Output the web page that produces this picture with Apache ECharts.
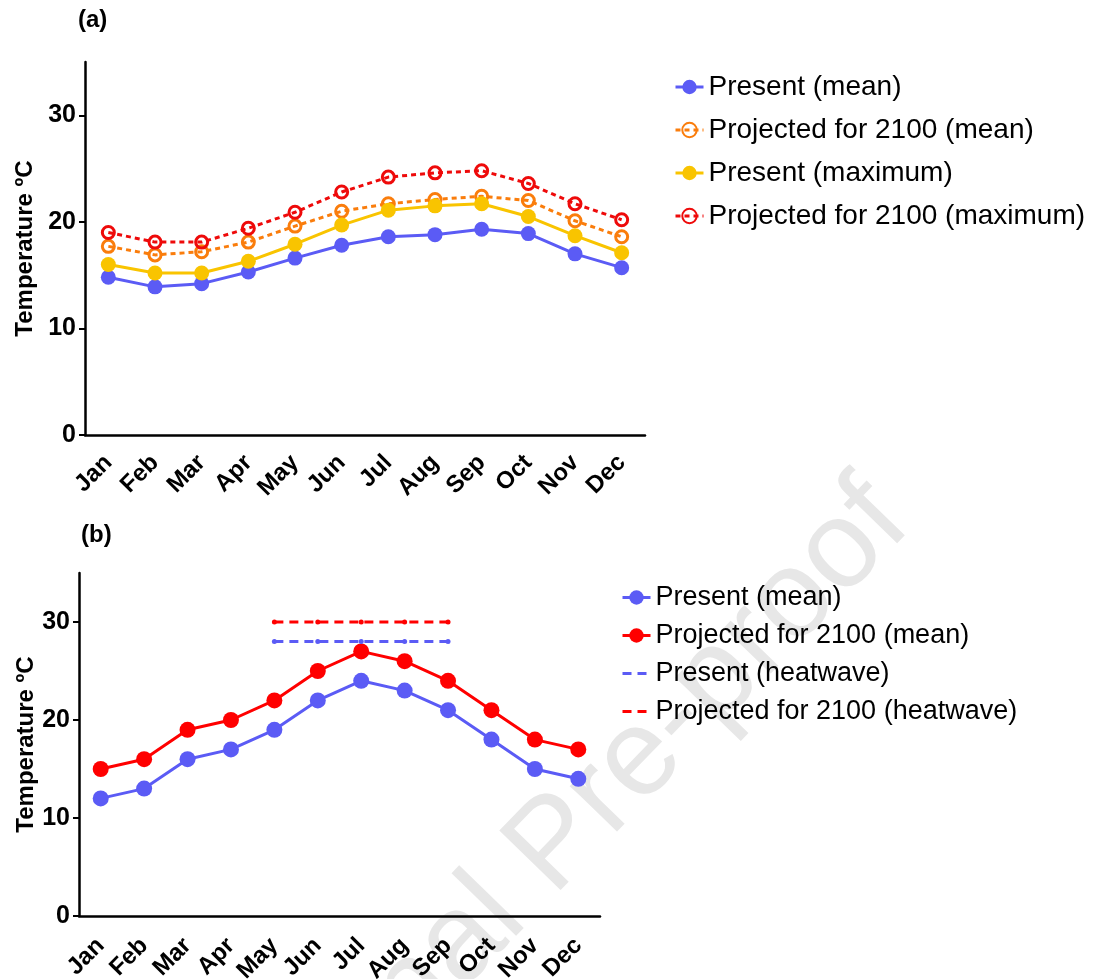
<!DOCTYPE html>
<html>
<head>
<meta charset="utf-8">
<script src="https://cdn.jsdelivr.net/npm/echarts@6/dist/echarts.min.js"></script>
<style>
html,body{margin:0;padding:0;background:#fff;}
#chart{width:1101px;height:979px;}
</style>
</head>
<body>
<div id="chart"></div>
<script>
var months = ['Jan','Feb','Mar','Apr','May','Jun','Jul','Aug','Sep','Oct','Nov','Dec'];
var yTicks = [0, 10, 20, 30];

// Panel (a)
var aPresentMean    = [14.8, 13.9, 14.2, 15.3, 16.6, 17.8, 18.6, 18.8, 19.3, 18.9, 17.0, 15.7];
var aProjectedMean  = [17.7, 16.9, 17.2, 18.1, 19.6, 21.0, 21.7, 22.1, 22.4, 22.0, 20.1, 18.6];
var aPresentMax     = [16.0, 15.2, 15.2, 16.3, 17.9, 19.7, 21.1, 21.5, 21.7, 20.5, 18.7, 17.1];
var aProjectedMax   = [19.0, 18.1, 18.1, 19.4, 20.9, 22.8, 24.2, 24.6, 24.8, 23.6, 21.7, 20.2];

// Panel (b)
var bPresentMean    = [12, 13, 16, 17, 19, 22, 24, 23, 21, 18, 15, 14];
var bProjectedMean  = [15, 16, 19, 20, 22, 25, 27, 26, 24, 21, 18, 17];
var bPresentHW      = ['-', '-', '-', '-', 28, 28, 28, 28, 28, '-', '-', '-'];
var bProjectedHW    = ['-', '-', '-', '-', 30, 30, 30, 30, 30, '-', '-', '-'];

var BLUE = '#5b5bf5', ORANGE = '#fa7d0c', YELLOW = '#f9c400', RED_A = '#ee0a0a', RED_B = '#ff0000';
var FONT = 'Liberation Sans, Arial, Helvetica, sans-serif';
var SUFFIX = ' \u200c(b)';

function xAxis(gi, fs, margin) {
  return {
    type: 'category', gridIndex: gi, data: months, boundaryGap: true,
    axisLine: {lineStyle: {color: '#000', width: 2.5}},
    axisTick: {alignWithLabel: true, length: 7, lineStyle: {color: '#000', width: 2}},
    axisLabel: {rotate: 45, margin: margin, color: '#000', fontWeight: 'bold', fontSize: fs, fontFamily: FONT, interval: 0},
    splitLine: {show: false}
  };
}
function yAxis(gi, gap) {
  return {
    type: 'value', gridIndex: gi, min: 0, max: 35,
    name: 'Temperature \u00baC', nameLocation: 'middle', nameGap: gap,
    nameTextStyle: {color: '#000', fontWeight: 'bold', fontSize: 24, fontFamily: FONT},
    axisLine: {show: true, lineStyle: {color: '#000', width: 2.5}},
    axisTick: {show: true, length: 6, customValues: yTicks, lineStyle: {color: '#000', width: 2}},
    axisLabel: {customValues: yTicks, margin: 9, color: '#000', fontWeight: 'bold', fontSize: 25, fontFamily: FONT},
    splitLine: {show: false}
  };
}

var option = {
  backgroundColor: '#fff',
  animation: false,
  graphic: [
    {type: 'text', left: 78, top: 8, style: {text: '(a)', font: 'bold 24px ' + FONT, fill: '#000'}},
    {type: 'text', left: 81, top: 523, style: {text: '(b)', font: 'bold 24px ' + FONT, fill: '#000'}},
    {type: 'text', x: 266, y: 1233, rotation: 0.80, z: -10, silent: true,
     style: {text: 'Journal Pre-proof', font: '124px ' + FONT, fill: '#e7e7e7', textAlign: 'left', textVerticalAlign: 'bottom'}}
  ],
  grid: [
    {left: 85, top: 62, width: 560, height: 373, containLabel: false, outerBoundsMode: 'none'},
    {left: 79, top: 573, width: 521, height: 343, containLabel: false, outerBoundsMode: 'none'}
  ],
  legend: [
    {
      left: 669, top: 68, orient: 'vertical', itemWidth: 28, itemHeight: 18, itemGap: 15,
      lineStyle: {width: 3},
      textStyle: {color: '#000', fontSize: 28, fontFamily: FONT, lineHeight: 28},
      data: ['Present (mean)', 'Projected for 2100 (mean)', 'Present (maximum)', 'Projected for 2100 (maximum)']
    },
    {
      left: 616, top: 579, orient: 'vertical', itemWidth: 28, itemHeight: 18, itemGap: 11,
      lineStyle: {width: 3},
      textStyle: {color: '#000', fontSize: 27, fontFamily: FONT, lineHeight: 27},
      formatter: function (n) { return n.replace(SUFFIX, ''); },
      data: [
        'Present (mean)' + SUFFIX,
        'Projected for 2100 (mean)' + SUFFIX,
        {name: 'Present (heatwave)', itemStyle: {opacity: 0}},
        {name: 'Projected for 2100 (heatwave)', itemStyle: {opacity: 0}}
      ]
    }
  ],
  xAxis: [xAxis(0, 24, 24), xAxis(1, 24, 26)],
  yAxis: [yAxis(0, 44), yAxis(1, 38)],
  series: [
    {name: 'Present (mean)', type: 'line', xAxisIndex: 0, yAxisIndex: 0, data: aPresentMean,
     symbol: 'circle', symbolSize: 15, lineStyle: {color: BLUE, width: 3}, itemStyle: {color: BLUE}},
    {name: 'Projected for 2100 (mean)', type: 'line', xAxisIndex: 0, yAxisIndex: 0, data: aProjectedMean,
     symbol: 'circle', symbolSize: 12, lineStyle: {color: ORANGE, width: 3, type: [5, 4]},
     itemStyle: {color: 'rgba(255,255,255,0)', borderColor: ORANGE, borderWidth: 3}},
    {name: 'Present (maximum)', type: 'line', xAxisIndex: 0, yAxisIndex: 0, data: aPresentMax,
     symbol: 'circle', symbolSize: 15, lineStyle: {color: YELLOW, width: 3}, itemStyle: {color: YELLOW}},
    {name: 'Projected for 2100 (maximum)', type: 'line', xAxisIndex: 0, yAxisIndex: 0, data: aProjectedMax,
     symbol: 'circle', symbolSize: 12, lineStyle: {color: RED_A, width: 3, type: [5, 4]},
     itemStyle: {color: 'rgba(255,255,255,0)', borderColor: RED_A, borderWidth: 3}},

    {name: 'Present (mean)' + SUFFIX, type: 'line', xAxisIndex: 1, yAxisIndex: 1, data: bPresentMean,
     symbol: 'circle', symbolSize: 16, lineStyle: {color: BLUE, width: 3}, itemStyle: {color: BLUE}},
    {name: 'Projected for 2100 (mean)' + SUFFIX, type: 'line', xAxisIndex: 1, yAxisIndex: 1, data: bProjectedMean,
     symbol: 'circle', symbolSize: 16, lineStyle: {color: RED_B, width: 3}, itemStyle: {color: RED_B}},
    {name: 'Present (heatwave)', type: 'line', xAxisIndex: 1, yAxisIndex: 1, data: bPresentHW,
     symbol: 'circle', symbolSize: 5, lineStyle: {color: BLUE, width: 3, type: [9, 6]}, itemStyle: {color: BLUE}},
    {name: 'Projected for 2100 (heatwave)', type: 'line', xAxisIndex: 1, yAxisIndex: 1, data: bProjectedHW,
     symbol: 'circle', symbolSize: 5, lineStyle: {color: RED_B, width: 3, type: [9, 6]}, itemStyle: {color: RED_B}}
  ]
};

var chart = echarts.init(document.getElementById('chart'), null, {renderer: 'canvas'});
chart.setOption(option);
</script>
</body>
</html>
